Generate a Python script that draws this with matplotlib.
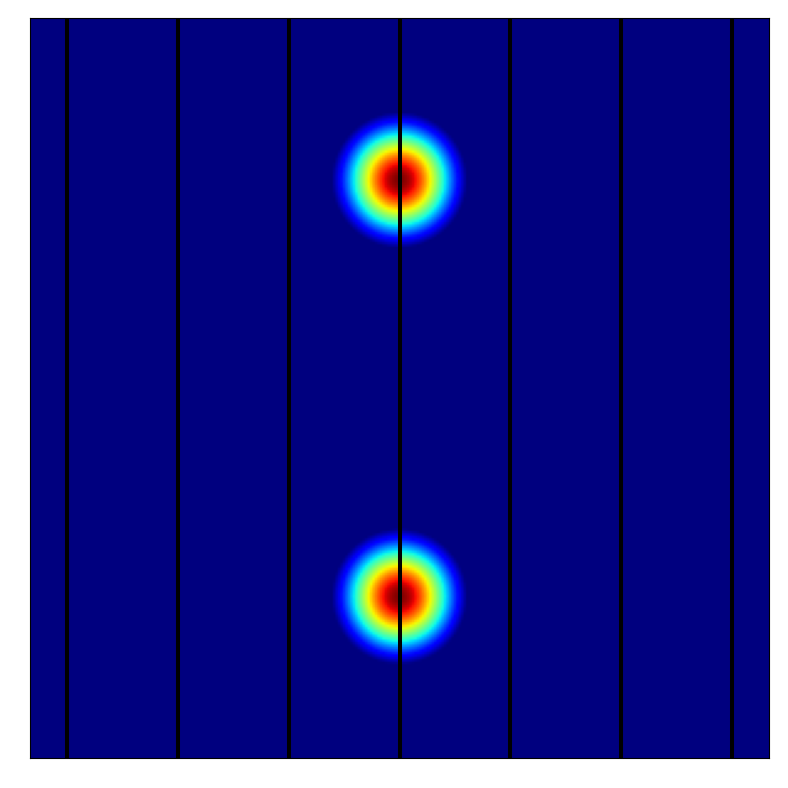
import numpy as np
import matplotlib
matplotlib.use('Agg')
import matplotlib.pyplot as plt

# положення вертикальних ліній (частка ширини)
line_x = [0.05, 0.2, 0.35, 0.5, 0.65, 0.8, 0.95]

# центри плям та їх ширина
blob_x = [0.5, 0.5]
blob_y = [0.219, 0.783]
blob_sigma = 0.0514
level_min = 0.2

n = 300
xs = np.linspace(0, 1, n)
ys = np.linspace(0, 1, n)
X, Y = np.meshgrid(xs, ys)
field = np.zeros_like(X)
for bx, by in zip(blob_x, blob_y):
    field += np.exp(-((X - bx) ** 2 + (Y - by) ** 2) / (2 * blob_sigma ** 2))

fig = plt.figure(figsize=(7.88, 7.88), dpi=100)
ax = fig.add_axes([30 / 788, 30 / 788, 739 / 788, 740 / 788])
ax.imshow(field, cmap='jet', vmin=level_min, vmax=1, extent=[0, 1, 1, 0],
          origin='upper', aspect='auto')
for lx in line_x:
    ax.axvline(lx, color='black', lw=2.9)
ax.set_xlim(0, 1)
ax.set_ylim(1, 0)
ax.set_xticks([])
ax.set_yticks([])

fig.savefig('out.png', dpi=100)
